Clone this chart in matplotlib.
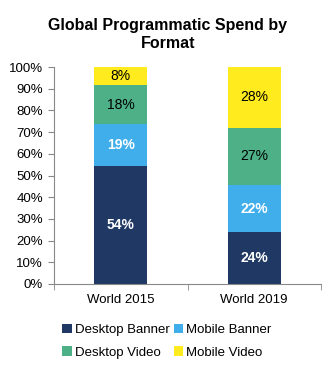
import matplotlib
matplotlib.use("Agg")
import matplotlib.pyplot as plt
import numpy as np

plt.rcParams['font.family'] = ['Liberation Sans', 'DejaVu Sans']

categories = ["World 2015", "World 2019"]
series = ["Desktop Banner", "Mobile Banner", "Desktop Video", "Mobile Video"]
desktop_banner = [54.2, 23.8]
mobile_banner = [19.4, 21.7]
desktop_video = [17.9, 26.6]
mobile_video = [8.5, 27.9]
colors = ["#1F3864", "#3FAEEA", "#4DB087", "#FFEB1E"]
label_colors = ["white", "white", "black", "black"]

values = [desktop_banner, mobile_banner, desktop_video, mobile_video]

fig = plt.figure(figsize=(3.36, 3.66), dpi=100)
ax = fig.add_axes([54/336, 1-284/366, 267/336, 217/366])

x = np.arange(len(categories))
bottom = np.zeros(len(categories))
for name, vals, c, lc in zip(series, values, colors, label_colors):
    vals = np.array(vals)
    ax.bar(x, vals, 0.4, bottom=bottom, color=c, label=name)
    for xi, b, v in zip(x, bottom, vals):
        ax.text(xi, b + v/2, f"{round(v):.0f}%", ha="center", va="center",
                color=lc, fontsize=10, fontweight="bold" if lc == "white" else "normal")
    bottom += vals

ax.set_xlim(-0.5, 1.5)
ax.set_ylim(0, 100)
ax.set_yticks(np.arange(0, 101, 10))
ax.set_yticklabels([f"{v}%" for v in range(0, 101, 10)], fontsize=9.5)
ax.set_xticks(x)
ax.set_xticklabels(categories, fontsize=9.5)
ax.set_xticks([-0.5, 0.5, 1.5], minor=True)
ax.tick_params(axis="x", which="major", length=0, pad=7)
ax.tick_params(axis="x", which="minor", length=4, color="#888888", direction="out")
ax.tick_params(axis="y", length=4, color="#888888", direction="out", pad=4)
for s in ["top", "right"]:
    ax.spines[s].set_visible(False)
for s in ["left", "bottom"]:
    ax.spines[s].set_color("#888888")
    ax.spines[s].set_linewidth(0.8)

fig.suptitle("Global Programmatic Spend by\nFormat", fontsize=11.5, fontweight="bold", y=0.95)

handles, labels = ax.get_legend_handles_labels()
order = [0, 2, 1, 3]
fig.legend([handles[i] for i in order], [labels[i] for i in order],
           loc="lower center", bbox_to_anchor=(0.497, -0.012), ncol=2,
           frameon=False, fontsize=9.5, handlelength=0.7, handleheight=0.7,
           handletextpad=0.25, columnspacing=0.3, labelspacing=0.75)

fig.savefig("out.png", dpi=100)
